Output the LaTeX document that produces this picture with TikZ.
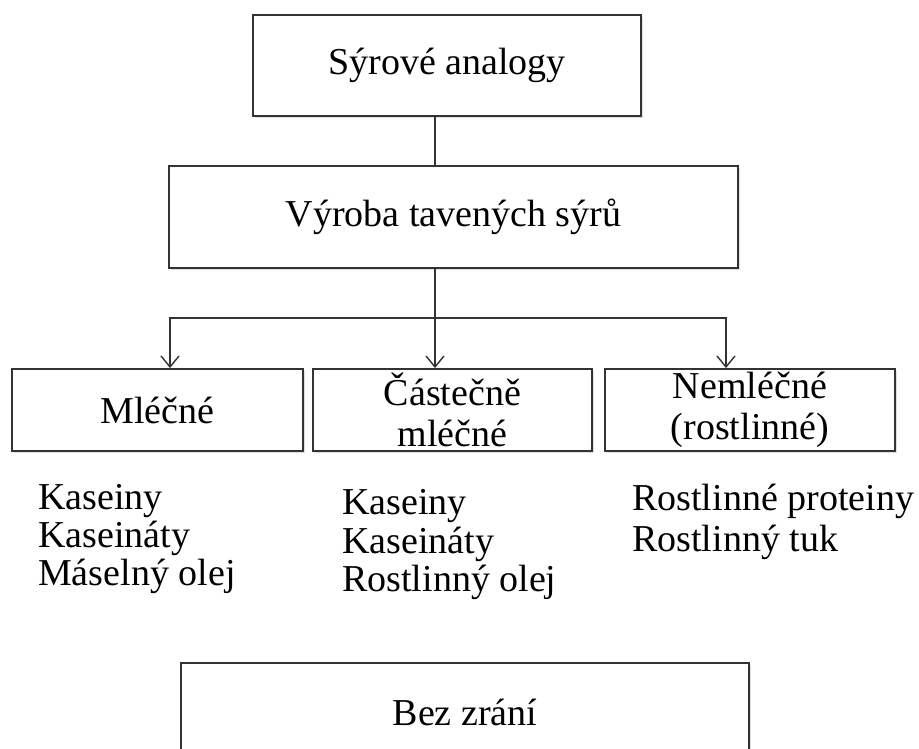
\documentclass[tikz,border=0pt]{standalone}
\usepackage{fontspec}
\setmainfont{Liberation Serif}
\usetikzlibrary{arrows.meta,shadows,calc}
\begin{document}
\begin{tikzpicture}[x=1pt,y=-1pt,
  boxnode/.style={draw=black!80, line width=1.8pt, fill=white, inner sep=0pt,
     align=center, font=\fontsize{38}{41}\selectfont,
     drop shadow={opacity=0.25, shadow xshift=1.5pt, shadow yshift=-2pt}},
  conn/.style={draw=black!80, line width=1.4pt},
  arr/.style={conn, -{Straight Barb[length=11pt,width=18pt,line width=1.4pt]}},
  listtext/.style={anchor=base west, inner sep=0pt, font=\fontsize{38}{40}\selectfont}]
\clip (0,0) rectangle (919,749);
\fill[white] (0,0) rectangle (919,749);
% boxes
\node[boxnode, minimum width=388pt, minimum height=101pt] (top) at (447,65.5) {Sýrové analogy};
\node[boxnode, minimum width=569pt, minimum height=102pt] (mid) at (453.5,217) {Výroba tavených sýrů};
\node[boxnode, minimum width=291pt, minimum height=82pt] (m1) at (157.5,410) {Mléčné};
\node[boxnode, minimum width=279pt, minimum height=82pt] (m2) at (452.5,410) {Částečně\\mléčné};
\node[boxnode, minimum width=290pt, minimum height=82pt] (m3) at (750,410) {Nemléčné\\(rostlinné)};
\node[boxnode, minimum width=568pt, minimum height=120pt] (bot) at (465,723) {\raisebox{22pt}{Bez zrání}};
% connectors
\coordinate (jx) at (435,318);
\coordinate (hl) at (170,318);
\coordinate (hr) at (726,318);
\draw[conn] (top.south -| jx) -- (mid.north -| jx);
\draw[arr] (mid.south -| jx) -- (m2.north -| jx);
\draw[arr] (jx) -- (hl) -- (m1.north -| hl);
\draw[arr] (jx) -- (hr) -- (m3.north -| hr);
% lists
\node[listtext] (a1) at (38,509) {Kaseiny};
\node[listtext] (a2) at (38,547) {Kaseináty};
\node[listtext] (a3) at (38,585) {Máselný olej};
\node[listtext] (b1) at (342,514) {Kaseiny};
\node[listtext] (b2) at (342,553) {Kaseináty};
\node[listtext] (b3) at (342,591) {Rostlinný olej};
\node[listtext] (c1) at (632,510) {Rostlinné proteiny};
\node[listtext] (c2) at (632,551) {Rostlinný tuk};
\end{tikzpicture}
\end{document}
